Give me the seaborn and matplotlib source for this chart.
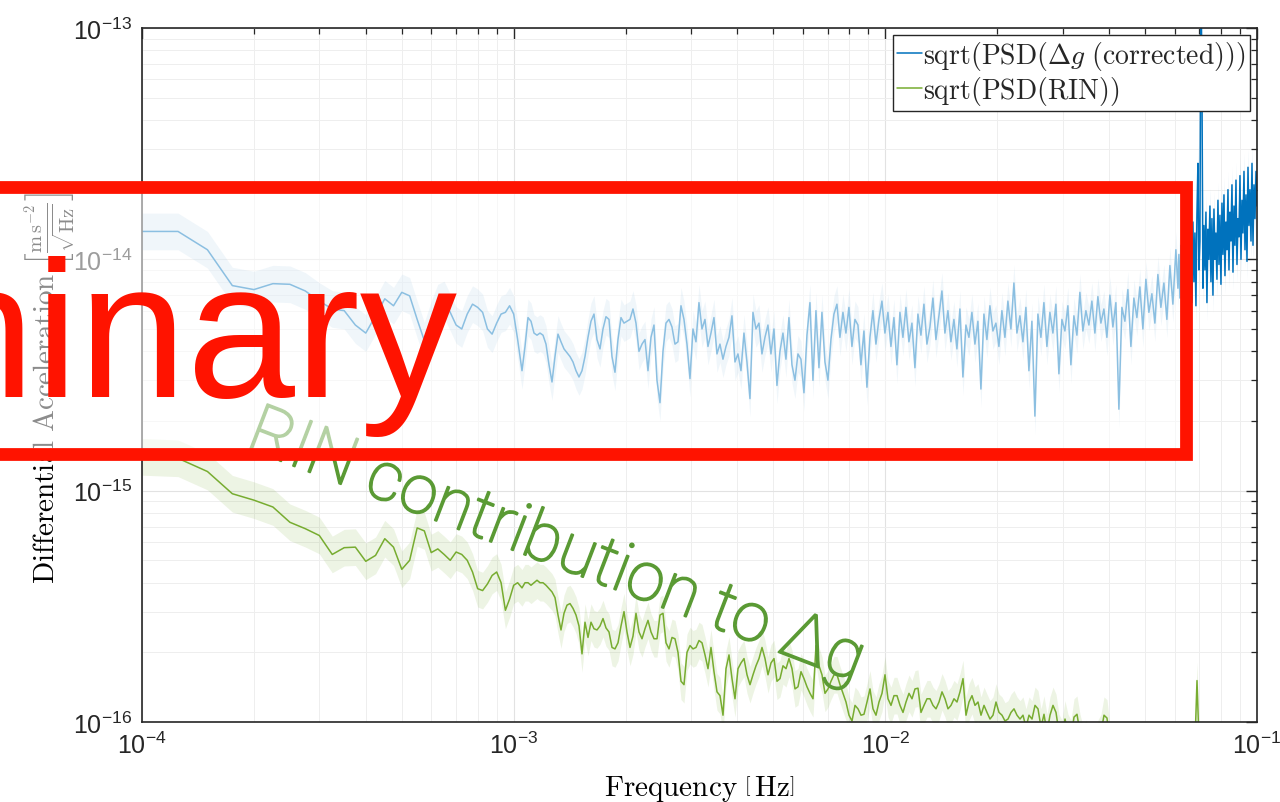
import numpy as np
import pandas as pd
import seaborn as sns
import matplotlib.pyplot as plt
import matplotlib.patheffects as pe
from matplotlib.patches import Rectangle
from matplotlib.lines import Line2D
from matplotlib.font_manager import FontProperties

# frequency resolution of the first (coarse) bins, Hz
df_low = 2.5e-5

# sqrt(PSD) in units of 1e-15 m s^-2 / sqrt(Hz)
dg_low = [13.2, 13.2, 11.0, 7.7, 7.4, 7.85, 7.8, 7.3, 6.6, 6.1,
          6.0, 5.2, 4.8, 5.7, 6.75, 6.3, 7.2, 6.95, 5.5, 4.45,
          5.5, 6.5, 6.7, 5.9, 5.2, 5.0, 5.8, 6.4, 6.2, 5.9,
          5.0, 4.75, 5.3, 5.8, 5.9, 6.3, 5.8, 4.5]
dg_mid = [3.3, 4.2, 5.6, 5.4, 4.8, 4.7, 4.8, 4.7, 4.3, 3.5,
          2.95, 3.8, 4.75, 4.4, 4.1, 3.95, 3.8, 3.6, 3.3, 3.1,
          3.3, 3.8, 4.6, 5.4, 5.8, 4.5, 4.1, 5.0, 5.65, 5.5,
          3.8, 3.25, 4.5, 5.6, 5.3, 5.4, 5.5, 6.1, 5.3, 4.0,
          4.3, 4.5, 3.3, 4.6, 5.2, 3.0, 2.4, 4.0, 5.3, 5.5,
          5.1, 4.3, 4.4, 6.3, 5.5, 4.3, 3.05, 5.0, 4.4, 6.5,
          5.0, 5.5, 4.2, 4.8, 5.6, 3.9, 4.3, 3.7, 4.2, 4.6,
          5.7, 3.6, 3.9, 3.3, 4.8, 3.6, 2.5, 5.9, 5.0, 5.3,
          3.9, 4.6, 5.2, 3.9, 5.0, 2.85, 4.0, 4.8, 3.7, 5.6,
          3.5, 3.0, 3.9, 3.7, 2.65, 4.7, 6.5, 3.0, 6.0, 3.4,
          5.9, 3.6, 3.0, 4.5, 5.8, 6.4, 4.6, 5.9, 4.8, 6.2,
          4.2, 5.5, 5.2, 3.5, 4.9, 2.8, 4.6, 6.0, 4.3, 5.5,
          6.6, 4.8, 5.9,
          4.2, 5.6, 3.5, 5.9, 4.6, 6.2, 4.4, 5.3, 3.4,
          5.8, 4.7, 6.4, 4.3, 5.1, 6.8, 4.5, 5.7, 7.3,
          4.8, 6.0, 4.4, 5.5, 4.1, 6.1, 3.1, 5.2, 4.6, 5.9,
          4.3, 5.4, 2.75, 5.8, 4.5, 6.3, 4.9, 5.3, 4.2, 6.0,
          4.6, 6.6, 5.0, 7.9, 4.8, 5.7, 4.4, 6.2, 3.3, 5.4,
          2.1, 5.8, 4.6, 6.5, 4.2, 5.9, 4.8, 6.4, 3.2, 5.5,
          4.9, 6.3, 3.5, 5.7, 4.7, 7.2, 4.9, 6.0, 5.2, 6.6,
          4.8, 6.9, 5.3, 6.1, 4.6, 7.0, 5.1, 6.5, 2.25, 6.2,
          5.4, 7.4, 4.2, 6.8, 5.6, 7.6, 5.0, 8.2, 5.9, 7.1,
          5.3, 8.6, 6.2, 7.9, 5.5, 9.4, 6.4, 11.0]
dg_top = [7.5, 10.5, 6.8, 11.5, 8.0, 12.0, 7.0, 10.0, 8.5, 12.5, 7.2, 11.0, 8.8, 13.0,
          6.5, 14.5, 8.0, 13.0, 6.3, 15.5, 26.0, 9.0, 12.0, 180.0,
          60.0, 7.5, 14.0, 9.0, 16.0, 6.5, 13.5, 10.0, 17.0, 8.0,
          15.0, 7.0, 16.5, 10.0, 13.0, 8.2, 18.0, 9.5, 15.5, 7.8,
          17.5, 10.5, 19.0, 8.5, 14.5, 11.0, 20.0, 9.0, 16.0, 12.0,
          21.0, 8.8, 17.0, 11.5, 22.0, 9.5, 15.0, 12.5, 23.0, 10.0,
          18.0, 13.0, 24.0, 11.0, 19.0, 9.8, 25.0, 14.0, 20.0, 12.0,
          26.0, 11.5, 21.0, 15.0, 24.0, 17.0]

rin_low = [1.40, 1.38, 1.21, 0.97, 0.91, 0.85, 0.73, 0.685, 0.64, 0.53,
           0.567, 0.57, 0.495, 0.525, 0.62, 0.57, 0.457, 0.50, 0.69, 0.67,
           0.54, 0.56, 0.53, 0.50, 0.543, 0.53, 0.50, 0.445, 0.377, 0.37,
           0.395, 0.43, 0.445, 0.40, 0.304, 0.34, 0.39, 0.40]
rin_high = [0.38, 0.40, 0.40,
            0.39, 0.40, 0.41, 0.40, 0.40, 0.39, 0.377, 0.365, 0.345, 0.29,
            0.25, 0.295, 0.32, 0.325, 0.31, 0.29, 0.26, 0.197, 0.27, 0.232,
            0.27, 0.253, 0.25, 0.26, 0.28, 0.255, 0.245, 0.21, 0.207, 0.22,
            0.26, 0.30, 0.245, 0.21, 0.235, 0.295, 0.245, 0.229, 0.253, 0.275,
            0.245, 0.229, 0.229, 0.29, 0.295, 0.22, 0.207, 0.232, 0.229, 0.20,
            0.15, 0.145, 0.20, 0.214, 0.207, 0.21, 0.225, 0.22, 0.195, 0.17,
            0.21, 0.165, 0.135, 0.13, 0.107, 0.17, 0.195, 0.154, 0.126, 0.17,
            0.18, 0.188, 0.16, 0.145, 0.16, 0.175, 0.188, 0.21, 0.188, 0.16,
            0.18, 0.188, 0.15, 0.154, 0.175, 0.17, 0.188, 0.17, 0.139, 0.142,
            0.165, 0.154, 0.142, 0.133, 0.126, 0.214, 0.175, 0.16, 0.133, 0.139,
            0.15, 0.16, 0.16, 0.145, 0.133, 0.122, 0.107, 0.101, 0.118, 0.114,
            0.107, 0.108, 0.122, 0.139, 0.114, 0.107, 0.122, 0.133, 0.16, 0.126,
            0.118, 0.13, 0.13, 0.118, 0.11, 0.122, 0.133, 0.126, 0.139, 0.14,
            0.11, 0.118, 0.126, 0.126, 0.118, 0.114, 0.122, 0.135, 0.126, 0.114,
            0.118, 0.126, 0.122, 0.135, 0.154, 0.107, 0.122, 0.13, 0.118, 0.122,
            0.107, 0.118, 0.11, 0.103, 0.107, 0.122, 0.11, 0.107, 0.101, 0.103,
            0.11, 0.114, 0.107, 0.103, 0.107, 0.095, 0.107, 0.103, 0.118, 0.114,
            0.095, 0.108, 0.09, 0.107, 0.118, 0.11, 0.09, 0.085, 0.103, 0.09,
            0.085, 0.105, 0.108, 0.09, 0.08, 0.085, 0.075, 0.08, 0.07, 0.085,
            0.09, 0.107, 0.104, 0.08, 0.07, 0.075, 0.065, 0.07, 0.06, 0.065,
            0.06, 0.055, 0.06, 0.065, 0.055, 0.06, 0.05, 0.055, 0.06, 0.05,
            0.055, 0.05, 0.06, 0.055, 0.05, 0.055, 0.05, 0.06, 0.055, 0.05,
            0.055, 0.06, 0.151, 0.06, 0.05, 0.055, 0.05, 0.06, 0.055, 0.05,
            0.055, 0.05, 0.06, 0.055, 0.05, 0.055, 0.05, 0.06, 0.055, 0.05,
            0.055, 0.05, 0.06]

labels = [r'$\mathrm{sqrt(PSD(}\Delta g\ \mathrm{(corrected)))}$',
          r'$\mathrm{sqrt(PSD(RIN))}$']
colors = ['#0072BD', '#77AC30']

# frequency grids: coarse linear bins, then log-spaced samples
f_low = 1e-4 + df_low * np.arange(len(dg_low))
f_mid = np.geomspace(1.053e-3, 0.0605, len(dg_mid))
f_top = np.geomspace(0.06126, 0.1, len(dg_top))
f_rin = np.geomspace(1.053e-3, 0.1, len(rin_high))

data = pd.concat([
    pd.DataFrame({'freq': np.concatenate([f_low, f_mid, f_top]),
                  'asd': np.concatenate([dg_low, dg_mid, dg_top]) * 1e-15, 'series': 'dg'}),
    pd.DataFrame({'freq': np.concatenate([f_low, f_rin]),
                  'asd': np.concatenate([rin_low, rin_high]) * 1e-15, 'series': 'rin'}),
], ignore_index=True)

sns.set_theme(style='white')
plt.rcParams['font.family'] = ['Liberation Sans', 'DejaVu Sans']
plt.rcParams['mathtext.fontset'] = 'custom'
plt.rcParams['mathtext.rm'] = 'Liberation Sans'
plt.rcParams['mathtext.it'] = 'Liberation Sans:italic'
plt.rcParams['mathtext.bf'] = 'Liberation Sans:bold'

fig = plt.figure(figsize=(12.8, 8.03), dpi=100)
ax = fig.add_axes([142 / 1280, 80 / 803, 1115 / 1280, 694 / 803])

# uncertainty bands
for name, c in zip(['dg', 'rin'], colors):
    sub = data[data['series'] == name]
    ax.fill_between(sub['freq'], sub['asd'] / 1.2, sub['asd'] * 1.2,
                    color=c, alpha=0.13, lw=0, zorder=1)

sns.lineplot(data=data, x='freq', y='asd', hue='series',
             palette=dict(zip(['dg', 'rin'], colors)),
             estimator=None, sort=False, linewidth=1.1, legend=False, ax=ax)

ax.set_xscale('log')
ax.set_yscale('log')
ax.set_xlim(1e-4, 1e-1)
ax.set_ylim(1e-16, 1e-13)

ax.grid(which='major', color='#E2E2E2', lw=0.8)
ax.grid(which='minor', color='#EEEEEE', lw=0.7)
ax.set_axisbelow(True)
for s in ax.spines.values():
    s.set_color('#262626')
    s.set_linewidth(1.2)
ax.tick_params(which='both', direction='in', top=True, right=True,
               colors='#262626', labelsize=18)
ax.tick_params(which='major', length=8, width=1.0, pad=7)
ax.tick_params(which='minor', length=4.5, width=0.9)

ax.set_xlabel(r'$\mathrm{Frequency}\ \left[\,\mathrm{Hz}\right]$',
              fontsize=21, color='black', labelpad=11, math_fontfamily='cm')
ax.set_ylabel(r'$\mathrm{Differential\ Acceleration}\ \left[\frac{\mathrm{m\,s^{-2}}}{\sqrt{\mathrm{Hz}}}\right]$',
              fontsize=21, color='black', math_fontfamily='cm')
ax.yaxis.set_label_coords(-0.057, 0.483)

handles = [Line2D([], [], color=c, lw=1.1) for c in colors]
ax.legend(handles, labels, loc='upper right', bbox_to_anchor=(1, 1),
          prop=FontProperties(size=20, math_fontfamily='cm'),
          fancybox=False, framealpha=1, edgecolor='#262626',
          handlelength=0.9, handletextpad=0.05, borderpad=0.15,
          labelspacing=0.05, borderaxespad=0.25)

# annotations on top of the figure
green_txt = '#5A9A34'
fig.text(244 / 1280, 1 - 448 / 803, 'RIN contribution to Δg', color=green_txt,
         fontsize=49, rotation=-21, rotation_mode='anchor', ha='left', va='baseline',
         family=['Roboto', 'DejaVu Sans'], fontweight='light', zorder=5,
         path_effects=[pe.withStroke(linewidth=1.4, foreground=green_txt)])

box = Rectangle((-100 / 1280, 1 - 455 / 803), (1185.5 + 100) / 1280, (455 - 188) / 803,
                transform=fig.transFigure, facecolor=(1, 1, 1, 0.55),
                edgecolor='#FF1300', linewidth=9.2, zorder=10)
fig.add_artist(box)
fig.text(457 / 1280, 1 - 397 / 803, 'Preliminary', color='#FF1300', fontsize=140,
         ha='right', va='baseline', family=['Liberation Sans'], zorder=12)

fig.savefig('out.png', dpi=100)
